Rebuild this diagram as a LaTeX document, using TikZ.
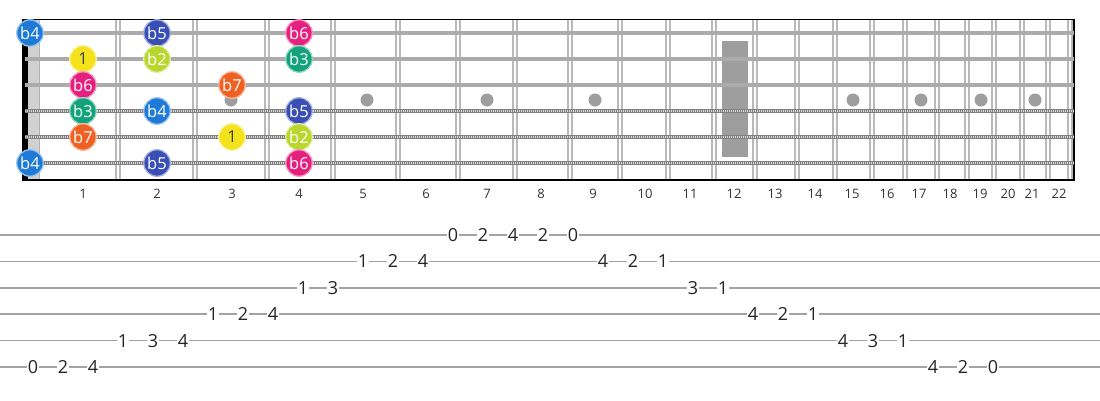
\documentclass[tikz,border=0pt]{standalone}
\usepackage{fontspec}
\setmainfont{Open Sans}
\definecolor{c1}{HTML}{F3E21C}
\definecolor{cb2}{HTML}{B9D62C}
\definecolor{cb3}{HTML}{13A37C}
\definecolor{cb4}{HTML}{1E7AD6}
\definecolor{cb5}{HTML}{3A4FB5}
\definecolor{cb6}{HTML}{E6207F}
\definecolor{cb7}{HTML}{EF6122}
\begin{document}
\begin{tikzpicture}[x=1pt,y=-1pt,
    fretwire/.style={draw=black!27,line width=1.1pt},
    plainstring/.style={draw=black!33,line width=3.2pt},
    woundstring/.style={draw=black!50,line width=4.6pt,
      postaction={draw=black!15,line width=2.4pt,dash pattern=on 1pt off 1pt}},
    inlay/.style={fill=black!38},
    note/.style={circle,minimum size=26.5pt,inner sep=0pt,line width=1.3pt,
      font=\fontsize{16.5}{16.5}\selectfont},
    fretnum/.style={text=black!80,font=\fontsize{13}{13}\selectfont},
    tabline/.style={draw=black!36,line width=1.6pt},
    tabnum/.style={fill=white,inner sep=1.2pt,text=black!85,
      font=\fontsize{18}{18}\selectfont}]
  \useasboundingbox (0,0) rectangle (1100,400);
  % \draw[help lines,step=50] (0,0) grid (1100,400);
  \foreach \n/\x in {0/30,1/83,2/157,3/232,4/299,5/363,6/426,7/487,8/541,9/593,
      10/645,11/690,12/734,13/775,14/815,15/852,16/887,17/919,18/950,19/980,
      20/1008,21/1032,22/1059}
    \coordinate (c\n) at (\x,194);
  \foreach \s in {1,...,6} {
    \coordinate (s\s) at (25,{33+26*(\s-1)});
    \coordinate (e\s) at (1074,{33+26*(\s-1)});
  }

  % inlays
  \fill[inlay] (722,41) rectangle (748,157);
  \foreach \x in {231,367,487,595,853,921,981,1035}
    \fill[inlay] (\x,100) circle (6.5);

  % frets
  \foreach \x in {118,195,267,333,398,458,515,570,620,668,714,755,797,835,872,
      905,937,967,994,1022,1048,1070}
    \draw[fretwire] (\x-2,19) -- (\x-2,180) (\x+2,19) -- (\x+2,180);

  % nut and frame
  \fill[black!18] (28,19) rectangle (40,180);
  \draw[black!30,line width=0.8pt] (39.5,19) -- (39.5,180);
  \fill[black] (22,19) rectangle (28,180);
  \draw[line width=1.5pt] (22,19.5) -- (1075,19.5);
  \draw[line width=2pt] (22,180) -- (1075,180) (1074,19) -- (1074,181);

  % strings
  \foreach \s in {1,2,3}
    \draw[plainstring] (s\s) -- (e\s);
  \foreach \s in {4,5,6}
    \draw[woundstring] (s\s) -- (e\s);

  % scale degrees
  \foreach \s/\f/\d/\t in {1/0/b4/white,1/2/b5/white,1/4/b6/white,
      2/1/1/black!75,2/2/b2/white,2/4/b3/white,
      3/1/b6/white,3/3/b7/white,
      4/1/b3/white,4/2/b4/white,4/4/b5/white,
      5/1/b7/white,5/3/1/black!75,5/4/b2/white,
      6/0/b4/white,6/2/b5/white,6/4/b6/white}
    \node[note,fill=c\d,draw=c\d!45!white,text=\t] (n\s-\f) at (c\f |- s\s) {\d};

  \foreach \n in {1,...,22}
    \node[fretnum] (fn\n) at (c\n) {\n};

  % tab
  \foreach \s in {1,...,6} {
    \coordinate (ta\s) at (0,{235+26.4*(\s-1)});
    \coordinate (tb\s) at (1100,{235+26.4*(\s-1)});
    \draw[tabline] (ta\s) -- (tb\s);
  }
  \foreach \i/\s/\f in {0/6/0,1/6/2,2/6/4,3/5/1,4/5/3,5/5/4,6/4/1,7/4/2,8/4/4,
      9/3/1,10/3/3,11/2/1,12/2/2,13/2/4,14/1/0,15/1/2,16/1/4,17/1/2,18/1/0,
      19/2/4,20/2/2,21/2/1,22/3/3,23/3/1,24/4/4,25/4/2,26/4/1,27/5/4,28/5/3,
      29/5/1,30/6/4,31/6/2,32/6/0}
    \node[tabnum] (t\i) at ({33+30*\i},{235+26.4*(\s-1)}) {\f};
\end{tikzpicture}
\end{document}
